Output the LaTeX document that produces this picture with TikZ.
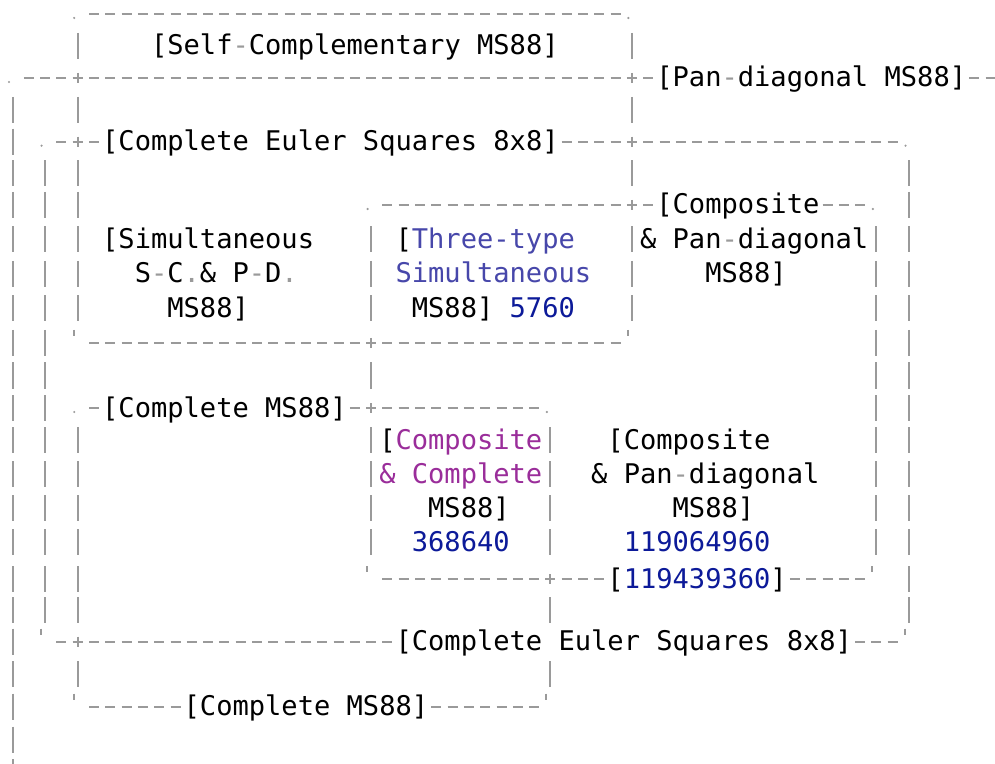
\documentclass[tikz,border=0pt]{standalone}
\usepackage{fontspec}
\newfontfamily\monof{DejaVu Sans Mono}
\definecolor{linegray}{HTML}{9A9A9A}
\definecolor{tblue}{HTML}{4747AA}
\definecolor{nblue}{HTML}{0C1A99}
\definecolor{purp}{HTML}{9A2D9A}
\def\RY{{14,46,78,110,141.7,173.5,205,239.5,274,308.5,343,375.5,408,440,474,508,542,579,610,641.7,674,706.7,739.5,772}}
\newcommand\colX[1]{(12.5+16.3*(#1))}
\newcommand\hrun[3]{\pgfmathsetmacro\yy{\RY[#1]}\draw[ln,dash pattern=on 5pt off 3.15pt] ({\colX{#2}-5},\yy) -- ({\colX{#3}+5},\yy);}
\newcommand\vbar[2]{\pgfmathsetmacro\yy{\RY[#2]}\draw[ln] ({\colX{#1}},{\yy-13}) -- ({\colX{#1}},{\yy+13});}
\newcommand\vplus[2]{\pgfmathsetmacro\yy{\RY[#2]}\draw[ln] ({\colX{#1}},{\yy-5}) -- ({\colX{#1}},{\yy+5});}
\newcommand\cdt[2]{\pgfmathsetmacro\yy{\RY[#2]}\fill[linegray] ({\colX{#1}-3.5},{\yy+4}) circle[radius=0.6pt];}
\newcommand\ctk[2]{\pgfmathsetmacro\yy{\RY[#2]}\draw[ln] ({\colX{#1}-4},{\yy-13}) -- ({\colX{#1}-4},{\yy-7});}
\newcommand\lbl[4]{\pgfmathsetmacro\yy{\RY[#2]}\node[tx] (#1) at ({\colX{#3}-8.15},{\yy+9}) {#4};}
\newcommand\gh{\textcolor{linegray}{-}}
\newcommand\gd{\textcolor{linegray}{.}}
\begin{document}
\begin{tikzpicture}[x=0.5pt,y=-0.5pt,
  ln/.style={draw=linegray,line width=1pt},
  tx/.style={anchor=base west,inner sep=0pt,outer sep=0pt,text=black,
    font=\monof\fontsize{13.54pt}{16pt}\selectfont}]
\fill[white] (0,0) rectangle (995,764);
\useasboundingbox (0,0) rectangle (995,764);
\begin{scope}
\clip (0,0) rectangle (995,764);
% horizontal runs
\hrun{0}{5}{37}
\hrun{2}{1}{39} \hrun{2}{59}{60}
\hrun{4}{3}{5} \hrun{4}{34}{54}
\hrun{6}{23}{39} \hrun{6}{50}{52}
\hrun{10}{5}{37}
\hrun{12}{5}{5} \hrun{12}{21}{32}
\hrun{17}{23}{36} \hrun{17}{48}{52}
\hrun{19}{3}{23} \hrun{19}{52}{54}
\hrun{21}{5}{10} \hrun{21}{26}{32}
% corner dots
\foreach \c/\r in {4/0,38/0,0/2,2/4,55/4,22/6,53/6,4/12,33/12} {\cdt{\c}{\r}}
% corner ticks
\foreach \c/\r in {4/10,38/10,22/17,53/17,2/19,55/19,4/21,33/21} {\ctk{\c}{\r}}
% crossings
\foreach \c/\r in {4/2,38/2,4/4,38/4,38/6,22/10,22/12,33/17,4/19} {\vplus{\c}{\r}}
% vertical bars
\foreach \r in {3,...,23} {\vbar{0}{\r}}
\foreach \r in {5,...,18} {\vbar{2}{\r}}
\foreach \r in {1,3,5,6,7,8,9,13,14,15,16,17,18,20} {\vbar{4}{\r}}
\foreach \r in {7,8,9,11,13,14,15,16} {\vbar{22}{\r}}
\foreach \r in {13,14,15,16,18,20} {\vbar{33}{\r}}
\foreach \r in {1,3,5,7,8,9} {\vbar{38}{\r}}
\foreach \r in {7,...,16} {\vbar{53}{\r}}
\foreach \r in {5,...,18} {\vbar{55}{\r}}
\end{scope}
% labels
\lbl{selfc}{1}{9}{[Self\gh Complementary MS88]}
\lbl{pand}{2}{40}{[Pan\gh diagonal MS88]}
\lbl{eulertop}{4}{6}{[Complete Euler Squares 8x8]}
\lbl{compA}{6}{40}{[Composite}
\lbl{simA}{7}{6}{[Simultaneous}
\lbl{threeA}{7}{24}{[\textcolor{tblue}{Three-type}}
\lbl{compB}{7}{39}{\& Pan\gh diagonal}
\lbl{simB}{8}{8}{S\gh C\gd\& P\gh D\gd}
\lbl{threeB}{8}{24}{\textcolor{tblue}{Simultaneous}}
\lbl{compC}{8}{43}{MS88]}
\lbl{simC}{9}{10}{MS88]}
\lbl{threeC}{9}{25}{MS88] \textcolor{nblue}{5760}}
\lbl{cmtop}{12}{6}{[Complete MS88]}
\lbl{ccA}{13}{23}{[\textcolor{purp}{Composite}}
\lbl{cpA}{13}{37}{[Composite}
\lbl{ccB}{14}{23}{\textcolor{purp}{\& Complete}}
\lbl{cpB}{14}{36}{\& Pan\gh diagonal}
\lbl{ccC}{15}{26}{MS88]}
\lbl{cpC}{15}{41}{MS88]}
\lbl{ccD}{16}{25}{\textcolor{nblue}{368640}}
\lbl{cpD}{16}{38}{\textcolor{nblue}{119064960}}
\lbl{tot}{17}{37}{[\textcolor{nblue}{119439360}]}
\lbl{eulerbot}{19}{24}{[Complete Euler Squares 8x8]}
\lbl{cmbot}{21}{11}{[Complete MS88]}
\end{tikzpicture}
\end{document}
